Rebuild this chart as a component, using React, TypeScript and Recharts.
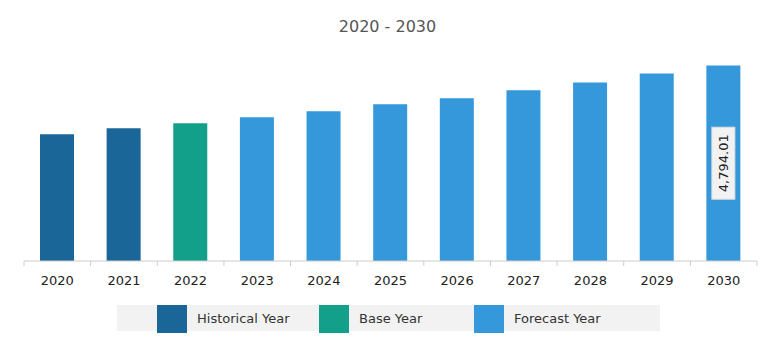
import { Bar, BarChart, Cell, LabelList, XAxis, YAxis } from "recharts";

const years = ["2020", "2021", "2022", "2023", "2024", "2025", "2026", "2027", "2028", "2029", "2030"];
const values = [3106, 3253, 3375, 3522, 3669, 3840, 3987, 4183, 4378, 4598, 4794.01];
const yearTypes = ["Historical Year", "Historical Year", "Base Year", "Forecast Year", "Forecast Year", "Forecast Year", "Forecast Year", "Forecast Year", "Forecast Year", "Forecast Year", "Forecast Year"];
const legendItems = ["Historical Year", "Base Year", "Forecast Year"];
const typeColors: Record<string, string> = {
  "Historical Year": "#1b6698",
  "Base Year": "#13a08a",
  "Forecast Year": "#3498db"
};

const data = years.map((year, i) => ({ year, value: values[i], type: yearTypes[i] }));

const FONT = "'DejaVu Sans', Verdana, sans-serif";
const W = 775;
const H = 354;
const LEFT = 24;
const RIGHT = 18;

function YearTick(props: any) {
  const { x, y, payload, index } = props;
  const band = (W - LEFT - RIGHT) / years.length;
  const left = x - band / 2;
  return (
    <g>
      <line x1={left} y1={y - 8} x2={left} y2={y - 3} stroke="#cccccc" />
      {index === years.length - 1 && (
        <line x1={left + band} y1={y - 8} x2={left + band} y2={y - 3} stroke="#cccccc" />
      )}
      <text x={x} y={y + 16} textAnchor="middle" fontSize={13} fill="#222222" fontFamily={FONT}>
        {payload.value}
      </text>
    </g>
  );
}

function LastLabel(props: any) {
  const { x, y, width, height, index, value } = props;
  if (index !== years.length - 1) return null;
  const cx = x + width / 2;
  const cy = y + height / 2;
  const text = Number(value).toLocaleString("en-US", { minimumFractionDigits: 2, maximumFractionDigits: 2 });
  return (
    <g transform={`rotate(-90 ${cx} ${cy})`}>
      <rect x={cx - 36} y={cy - 11.5} width={72} height={23} fill="#f2f2f2" stroke="#dddddd" />
      <text x={cx} y={cy + 5} textAnchor="middle" fontSize={13} fill="#222222" fontFamily={FONT}>
        {text}
      </text>
    </g>
  );
}

export default function App() {
  return (
    <div style={{ position: "fixed", left: 0, top: 0, width: W, height: H, background: "#fff", fontFamily: FONT }}>
      <div style={{ position: "absolute", top: 17, left: 0, width: W, textAlign: "center", fontSize: 16, color: "#555555" }}>
        2020 - 2030
      </div>
      <BarChart width={W} height={H} data={data} margin={{ top: 57, right: RIGHT, bottom: 63, left: LEFT }}>
        <YAxis hide domain={[0, 5000]} />
        <XAxis
          dataKey="year"
          axisLine={{ stroke: "#cccccc" }}
          tickLine={false}
          height={30}
          interval={0}
          tick={<YearTick />}
        />
        <Bar dataKey="value" barSize={34} isAnimationActive={false}>
          {data.map((d, i) => (
            <Cell key={i} fill={typeColors[d.type]} />
          ))}
          <LabelList dataKey="value" content={<LastLabel />} />
        </Bar>
      </BarChart>
      <div style={{ position: "absolute", left: 117, top: 305, width: 543, height: 26, background: "#f2f2f2" }}>
        {legendItems.map((name, i) => (
          <div key={name} style={{ position: "absolute", left: [40, 202, 357][i], top: 0, height: 26, display: "flex", alignItems: "center" }}>
            <span style={{ display: "inline-block", width: 30, height: 28, background: typeColors[name], marginTop: 2 }} />
            <span style={{ marginLeft: 10, fontSize: 13, color: "#333333" }}>{name}</span>
          </div>
        ))}
      </div>
    </div>
  );
}
